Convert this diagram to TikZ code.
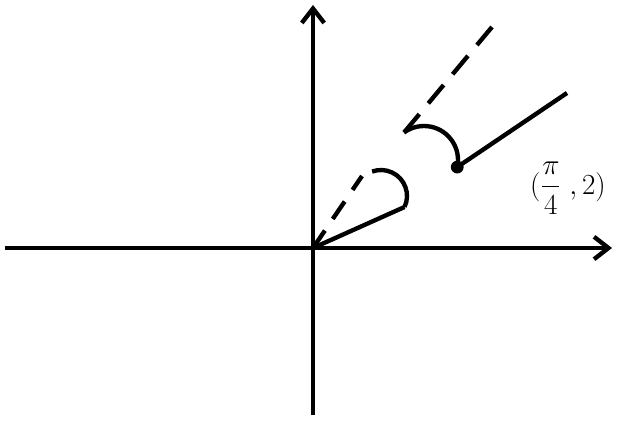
\documentclass[tikz,border=0pt]{standalone}
\usepackage{amssymb}
\usepackage{amsmath}
\usetikzlibrary{arrows.meta}

\begin{document}
\begin{tikzpicture}[line width=3.1pt,
    axis/.style={-{Straight Barb[length=3.6mm,width=5.6mm]}},
    ray/.style={dash pattern=on 15pt off 10pt}]
        \useasboundingbox (-7.825,-4.375) rectangle (7.6,6.2);

        % 1. 坐标轴
        \coordinate (O) at (0,0);
        \coordinate (xl) at (-7.7,0);
        \coordinate (xr) at (7.475,0);
        \coordinate (yb) at (0,-4.175);
        \coordinate (yt) at (0,6.075);
        \draw[axis] (xl) -- (xr);
        \draw[axis] (yb) -- (yt);

        % 2. 下方：线段、弧和虚线
        \coordinate (A) at (2.289,1.025);
        \coordinate (Aray) at (1.225,1.8);
        \draw (O) -- (A);
        \draw (A) arc[start angle=-25, end angle=110, radius=0.65];
        \draw[ray] (O) -- (Aray);

        % 3. 上方：点、线段、弧和虚线
        \coordinate (P) at (3.606,2.023);
        \coordinate (Pend) at (6.35,3.875);
        \coordinate (Bray) at (4.475,5.525);
        \draw (P) -- (Pend);
        \draw (P) arc[start angle=-12, end angle=126, radius=0.85] coordinate (B);
        \draw[ray, dash pattern=on 17pt off 10pt] (B) -- (Bray);
        \fill (P) circle (0.16);

        % 4. 标注
        \node[font=\fontsize{21}{25}\selectfont] (lbl) at (6.375,1.5) {$(\dfrac{\pi}{4}\;,2)$};
\end{tikzpicture}
\end{document}
